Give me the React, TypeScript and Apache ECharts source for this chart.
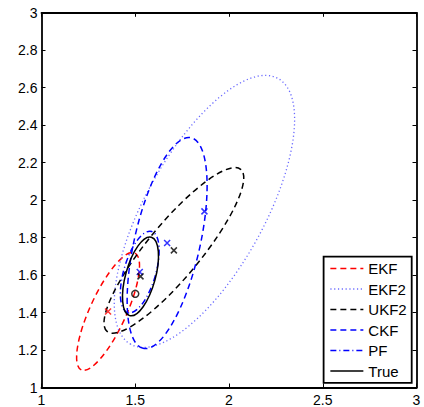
import React, { useEffect, useRef } from 'react';
import * as echarts from 'echarts';

// Filter names (legend order)
const filterNames = ['EKF', 'EKF2', 'UKF2', 'CKF', 'PF', 'True'];

// Covariance ellipses: centre, semi-axes, tilt (degrees, counter-clockwise)
const centerX = [1.355, 1.869, 1.706, 1.67, 1.524, 1.528];
const centerY = [1.406, 1.94, 1.732, 1.771, 1.616, 1.593];
const semiMajor = [0.343, 0.81, 0.56, 0.576, 0.226, 0.217];
const semiMinor = [0.097, 0.317, 0.142, 0.175, 0.085, 0.0794];
const tiltDeg = [65.4, 61.0, 50.5, 77.2, 73.6, 74.5];

// Estimate markers
const redMarks = [[1.355, 1.406]];
const blueMarks = [[1.524, 1.616], [1.67, 1.771], [1.869, 1.94]];
const blackMarks = [[1.528, 1.593], [1.706, 1.732]];
const trueState = [[1.5, 1.5]];

// Axis ranges
const xRange = [1, 3];
const yRange = [1, 3];
const xStep = 0.5;
const yStep = 0.2;

const lineColors = ['#ff0000', '#6a6aff', '#000000', '#0000ff', '#0000ff', '#000000'];
const lineDashes: (number[] | null)[] = [[6, 4], [1.2, 2.6], [6, 4], [6, 4], [6, 3, 1, 3], null];
const lineWidths = [1.5, 1.3, 1.5, 1.5, 1.5, 1.5];

const FONT = 'Liberation Sans, Arial, sans-serif';
const crossPath = 'path://M0,0L10,10M10,0L0,10';

export default function App() {
  const ref = useRef<HTMLDivElement>(null);
  useEffect(() => {
    if (!ref.current) return;
    const chart = echarts.init(ref.current, undefined, { renderer: 'svg' });

    const axisCommon = {
      type: 'value' as const,
      splitLine: { show: false },
      axisLine: { show: true, onZero: false, lineStyle: { color: '#000', width: 1.8 } },
      axisTick: { show: true, inside: true, length: 4, lineStyle: { color: '#000', width: 1 } },
    };

    const legendSeries = filterNames.map((name, i) => ({
      type: 'line' as const,
      name,
      data: [],
      symbol: 'none',
      showSymbol: false,
      itemStyle: { color: lineColors[i] },
      lineStyle: {
        color: lineColors[i],
        width: lineWidths[i],
        type: lineDashes[i] ? lineDashes[i] : 'solid',
      },
    }));

    const ellipseData = filterNames.map((_, i) => [
      centerX[i],
      centerY[i],
      semiMajor[i],
      semiMinor[i],
      tiltDeg[i],
    ]);

    const markSeries = (data: number[][], color: string) => ({
      type: 'scatter' as const,
      data,
      symbol: crossPath,
      symbolSize: 6,
      z: 5,
      itemStyle: { color: 'transparent', borderColor: color, borderWidth: 1.5 },
      silent: true,
    });

    chart.setOption({
      animation: false,
      textStyle: { fontFamily: FONT },
      grid: { left: 41.5, right: 7.5, top: 12.8, bottom: 19.5, containLabel: false, outerBoundsMode: 'none' },
      xAxis: [
        {
          ...axisCommon,
          position: 'bottom',
          min: xRange[0],
          max: xRange[1],
          interval: xStep,
          axisLabel: { color: '#000', fontSize: 14, fontFamily: FONT, margin: 5 },
        },
        {
          ...axisCommon,
          position: 'top',
          min: xRange[0],
          max: xRange[1],
          interval: xStep,
          axisLabel: { show: false },
        },
      ],
      yAxis: [
        {
          ...axisCommon,
          position: 'left',
          min: yRange[0],
          max: yRange[1],
          interval: yStep,
          axisLabel: { color: '#000', fontSize: 14, fontFamily: FONT, margin: 4 },
        },
        {
          ...axisCommon,
          position: 'right',
          min: yRange[0],
          max: yRange[1],
          interval: yStep,
          axisLabel: { show: false },
        },
      ],
      legend: {
        data: filterNames,
        orient: 'vertical',
        right: 12.3,
        top: 256.7,
        itemWidth: 33,
        itemHeight: 14,
        itemGap: 5.5,
        padding: [4.3, 5, 4.3, 6],
        borderColor: '#000',
        borderWidth: 1.8,
        borderRadius: 0,
        backgroundColor: '#fff',
        textStyle: { color: '#000', fontSize: 15, fontFamily: FONT },
        itemStyle: { opacity: 0, borderWidth: 0 },
        lineStyle: { width: 'inherit' },
        selectedMode: false,
      },
      series: [
        ...legendSeries,
        {
          type: 'custom',
          name: 'ellipses',
          data: ellipseData,
          encode: { x: 0, y: 1 },
          silent: true,
          renderItem: (params: any, api: any) => {
            const i = params.dataIndex;
            const c = api.coord([api.value(0), api.value(1)]);
            const rx = api.size([api.value(2), api.value(2)])[0];
            const ry = api.size([api.value(3), api.value(3)])[0];
            return {
              type: 'ellipse',
              x: c[0],
              y: c[1],
              rotation: (api.value(4) * Math.PI) / 180,
              shape: { cx: 0, cy: 0, rx, ry },
              style: {
                fill: 'none',
                stroke: lineColors[i],
                lineWidth: lineWidths[i],
                lineDash: lineDashes[i] || null,
              },
            };
          },
        },
        markSeries(redMarks, '#ff0000'),
        markSeries(blueMarks, '#0000ff'),
        markSeries(blackMarks, '#000000'),
        {
          type: 'scatter',
          data: trueState,
          symbol: 'circle',
          symbolSize: 7,
          z: 5,
          silent: true,
          itemStyle: { color: 'transparent', borderColor: '#000', borderWidth: 1.5 },
        },
      ],
    });

    return () => chart.dispose();
  }, []);

  return (
    <div
      ref={ref}
      style={{ position: 'absolute', left: 0, top: 0, width: 424, height: 407, background: '#fff' }}
    />
  );
}
